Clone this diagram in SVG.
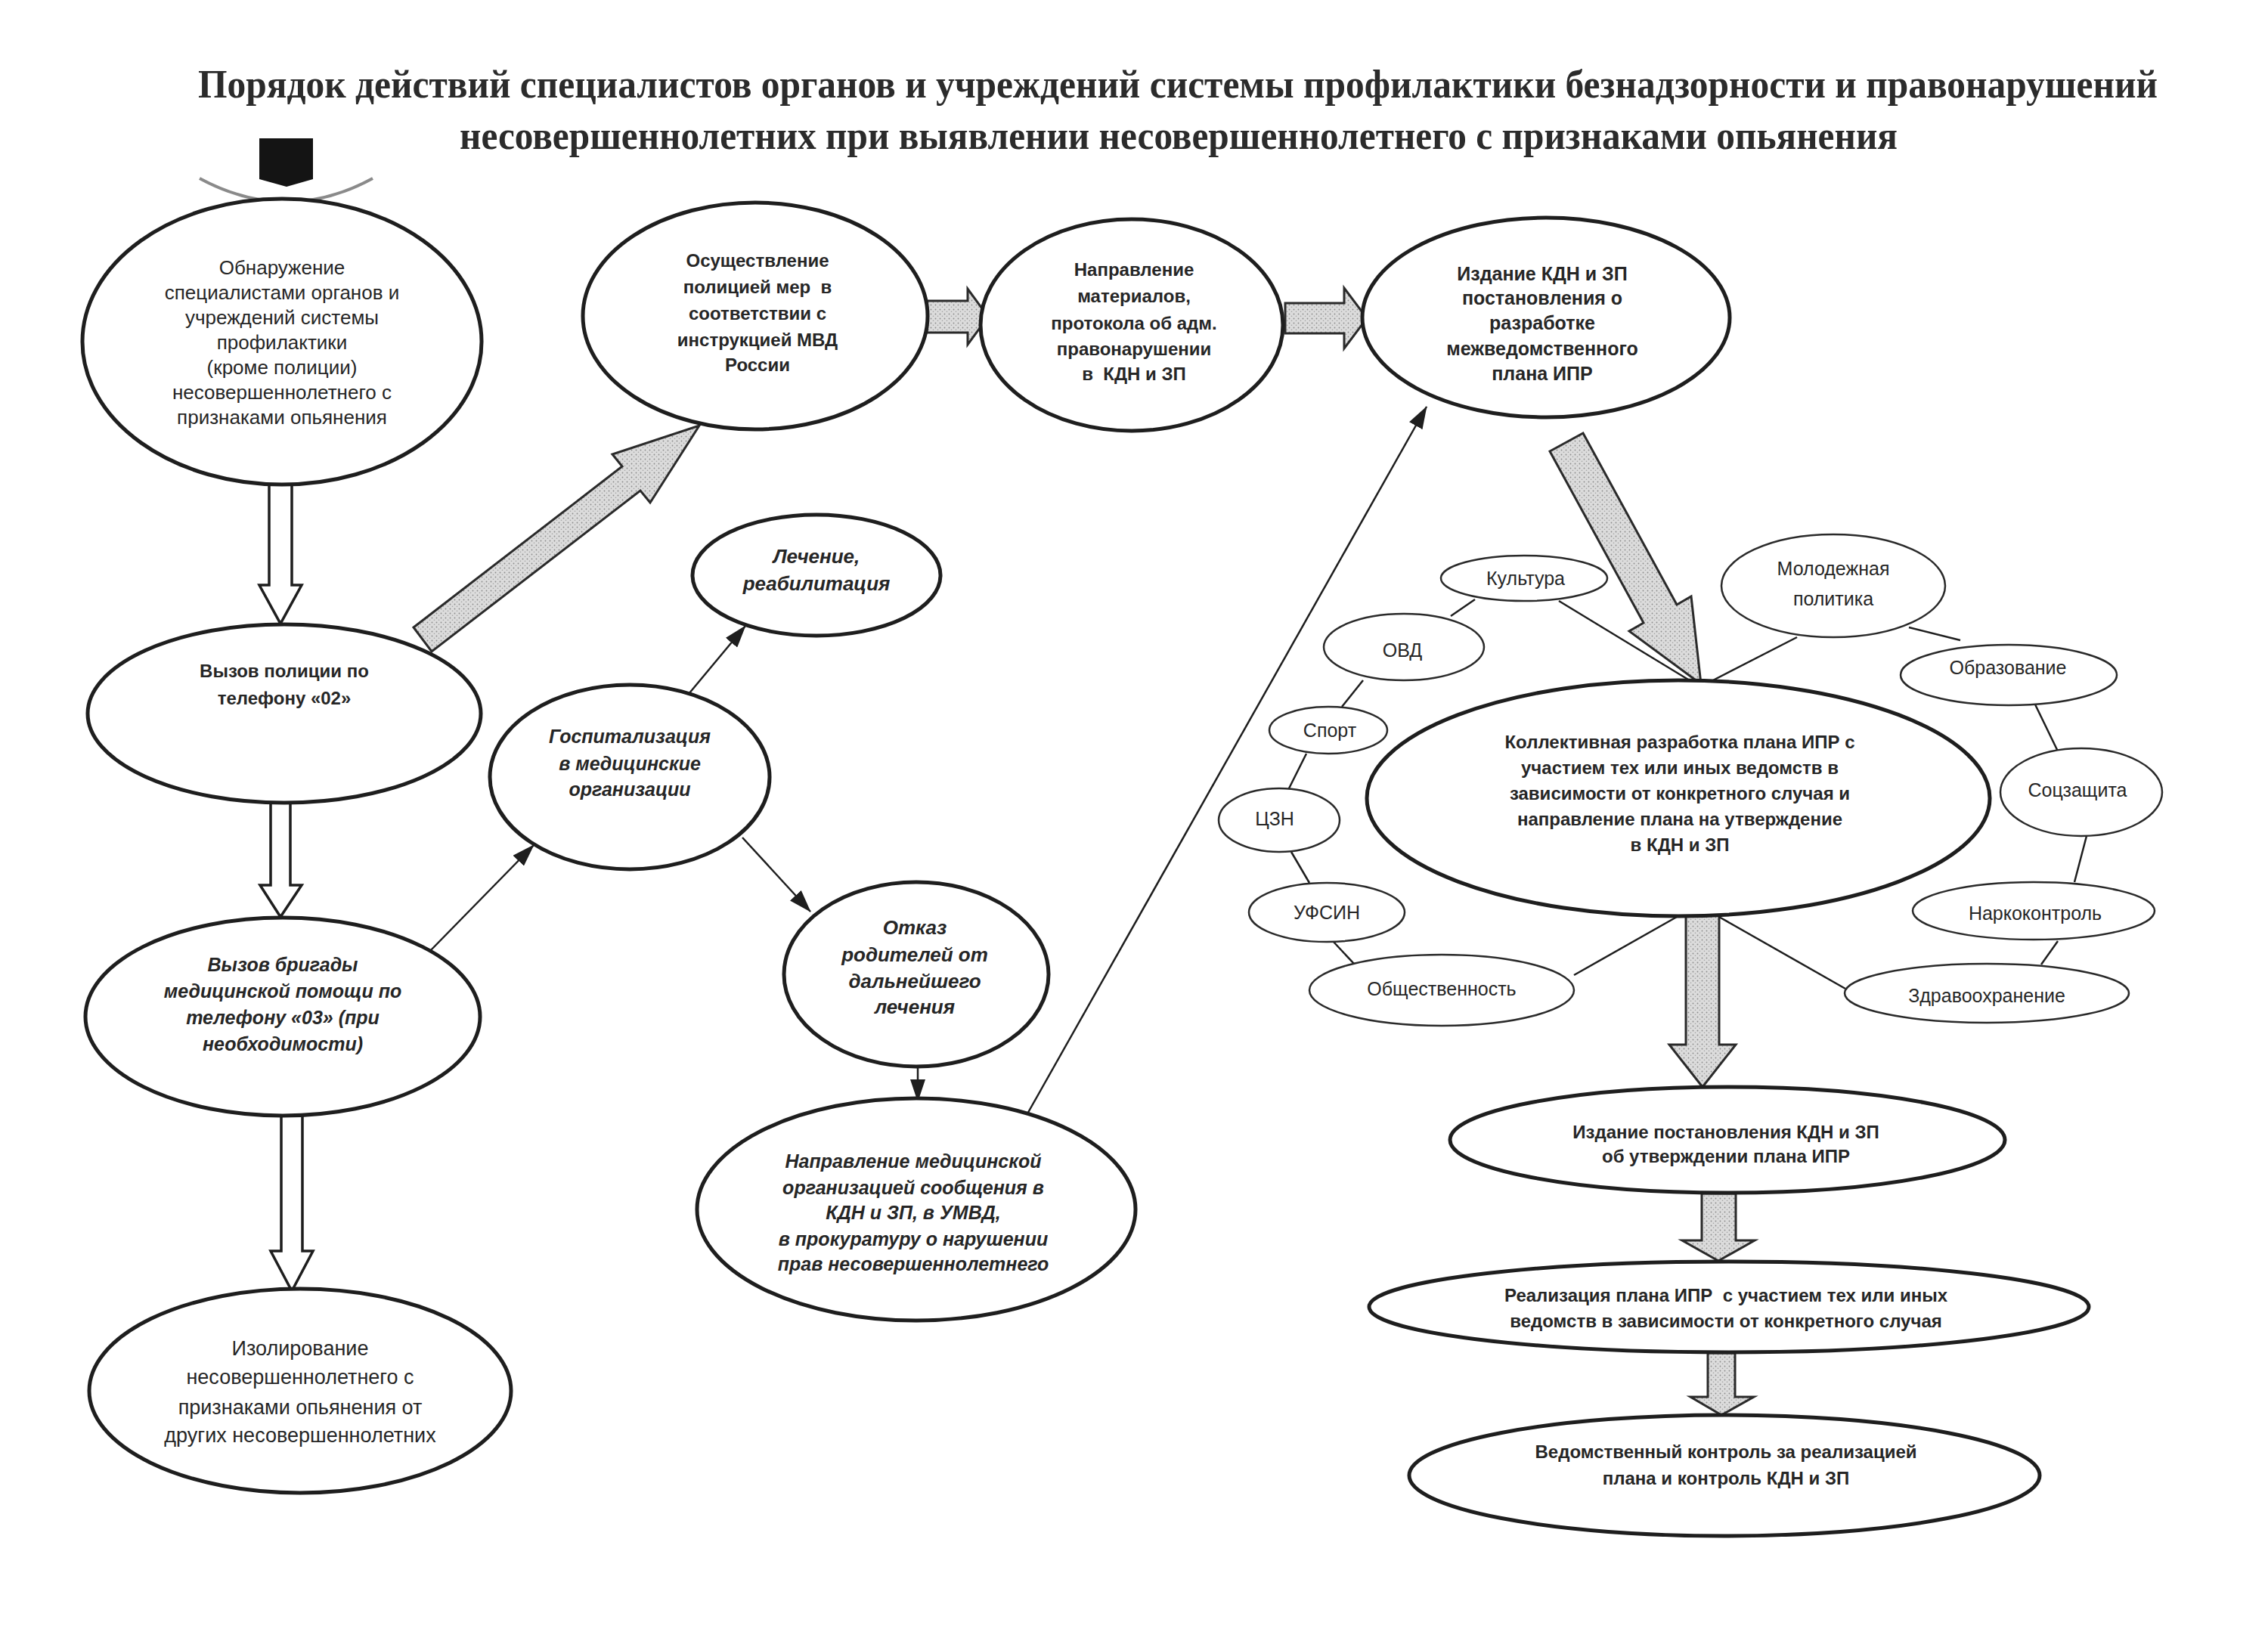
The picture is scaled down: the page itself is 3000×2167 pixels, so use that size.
<svg xmlns="http://www.w3.org/2000/svg" width="3000" height="2167" viewBox="0 0 3000 2167">
<defs>
<pattern id="stip" width="6" height="6" patternUnits="userSpaceOnUse">
<rect width="6" height="6" fill="#dcdcdc"/>
<circle cx="1.5" cy="1.5" r="0.9" fill="#8c8c8c"/>
<circle cx="4.5" cy="4.2" r="0.8" fill="#a0a0a0"/>
</pattern>
<marker id="ah" markerWidth="30" markerHeight="20" viewBox="0 0 30 20" refX="29" refY="10" orient="auto" markerUnits="userSpaceOnUse">
<path d="M0,0 L30,10 L0,20 Z" fill="#1e1e1e"/>
</marker>
</defs>
<style>
.n { fill: #fff; stroke: #1e1e1e; stroke-width: 5; }
.s { fill: #fff; stroke: #2a2a2a; stroke-width: 2.5; }
.t { font-family: "Liberation Sans", Arial, sans-serif; fill: #262626; text-anchor: middle; }
.r { font-size: 25px; }
.b { font-weight: bold; font-size: 24px; }
.bi { font-weight: bold; font-style: italic; font-size: 25px; }
.title { font-family: "Liberation Serif", "Times New Roman", serif; font-weight: bold; font-size: 52px; fill: #2b2b2b; text-anchor: middle; }
.ga { fill: url(#stip); stroke: #2a2a2a; stroke-width: 3; stroke-linejoin: miter; }
.ha { fill: #fff; stroke: #1e1e1e; stroke-width: 3.5; stroke-linejoin: miter; }
.ln { stroke: #1e1e1e; stroke-width: 2.5; fill: none; }
.la { stroke: #1e1e1e; stroke-width: 2.5; fill: none; marker-end: url(#ah); }
</style>
<rect width="3000" height="2167" fill="#ffffff"/>

<g id="title">
<text class="title" x="1558" y="129" textLength="2592" lengthAdjust="spacingAndGlyphs">Порядок действий специалистов органов и учреждений системы профилактики безнадзорности и правонарушений</text>
<text class="title" x="1559" y="197" textLength="1902" lengthAdjust="spacingAndGlyphs">несовершеннолетних при выявлении несовершеннолетнего с признаками опьянения</text>
</g>

<g id="start">
<polygon points="343,183 414,183 414,237 379,247 343,237" fill="#141414"/>
<path d="M264,236 Q379,298 493,236" fill="none" stroke="#8a8a8a" stroke-width="4"/>
</g>

<g id="connectors">
<polygon class="ha" points="356,641 386,641 386,774 399,774 371,825 343,774 356,774"/>
<polygon class="ha" points="358,1062 384,1062 384,1171 399,1171 371,1213 344,1171 358,1171"/>
<polygon class="ha" points="372,1476 400,1476 400,1655 414,1655 386,1708 358,1655 372,1655"/>
<polygon class="ga" points="547,830 823,617 810,601 925,563 860,665 847,649 571,862"/>
<polygon class="ga" points="1226,398 1280,398 1280,382 1307,419 1280,456 1280,440 1226,440"/>
<polygon class="ga" points="1700,401 1778,401 1778,381 1808,421 1778,461 1778,441 1700,441"/>
<polygon class="ga" points="2050,597 2174,824 2155,835 2250,905 2237,789 2218,800 2094,573"/>
<polygon class="ga" points="2230,1207 2274,1207 2274,1382 2296,1382 2252,1438 2208,1382 2230,1382"/>
<polygon class="ga" points="2251,1579 2296,1579 2296,1641 2321,1641 2273,1668 2225,1641 2251,1641"/>
<polygon class="ga" points="2259,1790 2295,1790 2295,1848 2320,1848 2277,1872 2236,1848 2259,1848"/>
<line class="la" x1="567" y1="1260" x2="706" y2="1118"/>
<line class="la" x1="911" y1="918" x2="986" y2="828"/>
<line class="la" x1="982" y1="1108" x2="1072" y2="1206"/>
<line class="la" x1="1214" y1="1410" x2="1214" y2="1457"/>
<line class="la" x1="1357" y1="1477" x2="1887" y2="538"/>
<line class="ln" x1="1951" y1="793" x2="1919" y2="815"/>
<line class="ln" x1="2062" y1="795" x2="2238" y2="902"/>
<line class="ln" x1="2377" y1="843" x2="2262" y2="902"/>
<line class="ln" x1="2525" y1="830" x2="2593" y2="847"/>
<line class="ln" x1="1803" y1="900" x2="1775" y2="935"/>
<line class="ln" x1="1728" y1="997" x2="1704" y2="1045"/>
<line class="ln" x1="2692" y1="932" x2="2724" y2="998"/>
<line class="ln" x1="1708" y1="1127" x2="1732" y2="1168"/>
<line class="ln" x1="1763" y1="1245" x2="1791" y2="1275"/>
<line class="ln" x1="2082" y1="1290" x2="2218" y2="1213"/>
<line class="ln" x1="2441" y1="1308" x2="2274" y2="1213"/>
<line class="ln" x1="2760" y1="1106" x2="2744" y2="1167"/>
<line class="ln" x1="2722" y1="1245" x2="2700" y2="1276"/>
</g>

<g id="n-detect">
<ellipse class="n" cx="373" cy="452" rx="264" ry="189"/>
<text class="t r" x="373" y="363" style="font-size:26px">Обнаружение</text>
<text class="t r" x="373" y="396" style="font-size:26px">специалистами органов и</text>
<text class="t r" x="373" y="429" style="font-size:26px">учреждений системы</text>
<text class="t r" x="373" y="462" style="font-size:26px">профилактики</text>
<text class="t r" x="373" y="495" style="font-size:26px">(кроме полиции)</text>
<text class="t r" x="373" y="528" style="font-size:26px">несовершеннолетнего с</text>
<text class="t r" x="373" y="561" style="font-size:26px">признаками опьянения</text>
</g>

<g id="n-police-call">
<ellipse class="n" cx="376" cy="944" rx="260" ry="118"/>
<text class="t b" x="376" y="896">Вызов полиции по</text>
<text class="t b" x="376" y="932">телефону «02»</text>
</g>

<g id="n-ambulance">
<ellipse class="n" cx="374" cy="1345" rx="261" ry="131"/>
<text class="t bi" x="374" y="1285">Вызов бригады</text>
<text class="t bi" x="374" y="1320">медицинской помощи по</text>
<text class="t bi" x="374" y="1355">телефону «03» (при</text>
<text class="t bi" x="374" y="1390">необходимости)</text>
</g>

<g id="n-isolation">
<ellipse class="n" cx="397" cy="1840" rx="279" ry="135"/>
<text class="t r" x="397" y="1793" style="font-size:27px">Изолирование</text>
<text class="t r" x="397" y="1831" style="font-size:27px">несовершеннолетнего с</text>
<text class="t r" x="397" y="1871" style="font-size:27px">признаками опьянения от</text>
<text class="t r" x="397" y="1908" style="font-size:27px">других несовершеннолетних</text>
</g>

<g id="n-police-measures">
<ellipse class="n" cx="999" cy="418" rx="228" ry="150"/>
<text class="t b" x="1002" y="353">Осуществление</text>
<text class="t b" x="1002" y="388" xml:space="preserve">полицией мер  в</text>
<text class="t b" x="1002" y="423">соответствии с</text>
<text class="t b" x="1002" y="458">инструкцией МВД</text>
<text class="t b" x="1002" y="491">России</text>
</g>

<g id="n-materials">
<ellipse class="n" cx="1497" cy="430" rx="200" ry="140"/>
<text class="t b" x="1500" y="365">Направление</text>
<text class="t b" x="1500" y="400">материалов,</text>
<text class="t b" x="1500" y="436">протокола об адм.</text>
<text class="t b" x="1500" y="470">правонарушении</text>
<text class="t b" x="1500" y="503" xml:space="preserve">в  КДН и ЗП</text>
</g>

<g id="n-kdn-decree">
<ellipse class="n" cx="2045" cy="420" rx="243" ry="132"/>
<text class="t b" x="2040" y="371" style="font-size:25px">Издание КДН и ЗП</text>
<text class="t b" x="2040" y="403" style="font-size:25px">постановления о</text>
<text class="t b" x="2040" y="436" style="font-size:25px">разработке</text>
<text class="t b" x="2040" y="470" style="font-size:25px">межведомственного</text>
<text class="t b" x="2040" y="503" style="font-size:25px">плана ИПР</text>
</g>

<g id="n-treatment">
<ellipse class="n" cx="1080" cy="761" rx="164" ry="80"/>
<text class="t bi" x="1080" y="745" style="font-size:26px">Лечение,</text>
<text class="t bi" x="1080" y="781" style="font-size:26px">реабилитация</text>
</g>

<g id="n-hospital">
<ellipse class="n" cx="833" cy="1028" rx="185" ry="122"/>
<text class="t bi" x="833" y="983">Госпитализация</text>
<text class="t bi" x="833" y="1019">в медицинские</text>
<text class="t bi" x="833" y="1053">организации</text>
</g>

<g id="n-refusal">
<ellipse class="n" cx="1212" cy="1289" rx="175" ry="122"/>
<text class="t bi" x="1210" y="1236" style="font-size:26px">Отказ</text>
<text class="t bi" x="1210" y="1272" style="font-size:26px">родителей от</text>
<text class="t bi" x="1210" y="1307" style="font-size:26px">дальнейшего</text>
<text class="t bi" x="1210" y="1341" style="font-size:26px">лечения</text>
</g>

<g id="n-medical-report">
<ellipse class="n" cx="1212" cy="1600" rx="290" ry="147"/>
<text class="t bi" x="1208" y="1545">Направление медицинской</text>
<text class="t bi" x="1208" y="1580">организацией сообщения в</text>
<text class="t bi" x="1208" y="1613">КДН и ЗП, в УМВД,</text>
<text class="t bi" x="1208" y="1648">в прокуратуру о нарушении</text>
<text class="t bi" x="1208" y="1681">прав несовершеннолетнего</text>
</g>

<g id="n-collective">
<ellipse class="n" cx="2220" cy="1056" rx="412" ry="156"/>
<text class="t b" x="2222" y="990">Коллективная разработка плана ИПР с</text>
<text class="t b" x="2222" y="1024">участием тех или иных ведомств в</text>
<text class="t b" x="2222" y="1058">зависимости от конкретного случая и</text>
<text class="t b" x="2222" y="1092">направление плана на утверждение</text>
<text class="t b" x="2222" y="1126">в КДН и ЗП</text>
</g>

<g id="n-kultura"><ellipse class="s" cx="2016" cy="765" rx="110" ry="30"/><text class="t r" x="2018" y="774">Культура</text></g>
<g id="n-ovd"><ellipse class="s" cx="1857" cy="856" rx="106" ry="44"/><text class="t r" x="1855" y="869">ОВД</text></g>
<g id="n-sport"><ellipse class="s" cx="1757" cy="966" rx="78" ry="31"/><text class="t r" x="1759" y="975">Спорт</text></g>
<g id="n-czn"><ellipse class="s" cx="1692" cy="1085" rx="80" ry="42"/><text class="t r" x="1686" y="1092">ЦЗН</text></g>
<g id="n-ufsin"><ellipse class="s" cx="1755" cy="1207" rx="103" ry="39"/><text class="t r" x="1755" y="1216">УФСИН</text></g>
<g id="n-public"><ellipse class="s" cx="1907" cy="1310" rx="175" ry="47"/><text class="t r" x="1907" y="1317">Общественность</text></g>
<g id="n-youth"><ellipse class="s" cx="2425" cy="775" rx="148" ry="68"/><text class="t r" x="2425" y="761">Молодежная</text><text class="t r" x="2425" y="801">политика</text></g>
<g id="n-education"><ellipse class="s" cx="2657" cy="893" rx="143" ry="40"/><text class="t r" x="2656" y="892">Образование</text></g>
<g id="n-social"><ellipse class="s" cx="2753" cy="1048" rx="107" ry="58"/><text class="t r" x="2748" y="1054">Соцзащита</text></g>
<g id="n-narco"><ellipse class="s" cx="2690" cy="1205" rx="160" ry="38"/><text class="t r" x="2692" y="1217">Наркоконтроль</text></g>
<g id="n-health"><ellipse class="s" cx="2628" cy="1314" rx="188" ry="39"/><text class="t r" x="2628" y="1326">Здравоохранение</text></g>

<g id="n-approve">
<ellipse class="n" cx="2285" cy="1508" rx="367" ry="70"/>
<text class="t b" x="2283" y="1506">Издание постановления КДН и ЗП</text>
<text class="t b" x="2283" y="1538">об утверждении плана ИПР</text>
</g>

<g id="n-implement">
<ellipse class="n" cx="2287" cy="1729" rx="476" ry="60"/>
<text class="t b" x="2283" y="1722" xml:space="preserve">Реализация плана ИПР  с участием тех или иных</text>
<text class="t b" x="2283" y="1756">ведомств в зависимости от конкретного случая</text>
</g>

<g id="n-control">
<ellipse class="n" cx="2281" cy="1952" rx="417" ry="80"/>
<text class="t b" x="2283" y="1929">Ведомственный контроль за реализацией</text>
<text class="t b" x="2283" y="1964">плана и контроль КДН и ЗП</text>
</g>
</svg>
